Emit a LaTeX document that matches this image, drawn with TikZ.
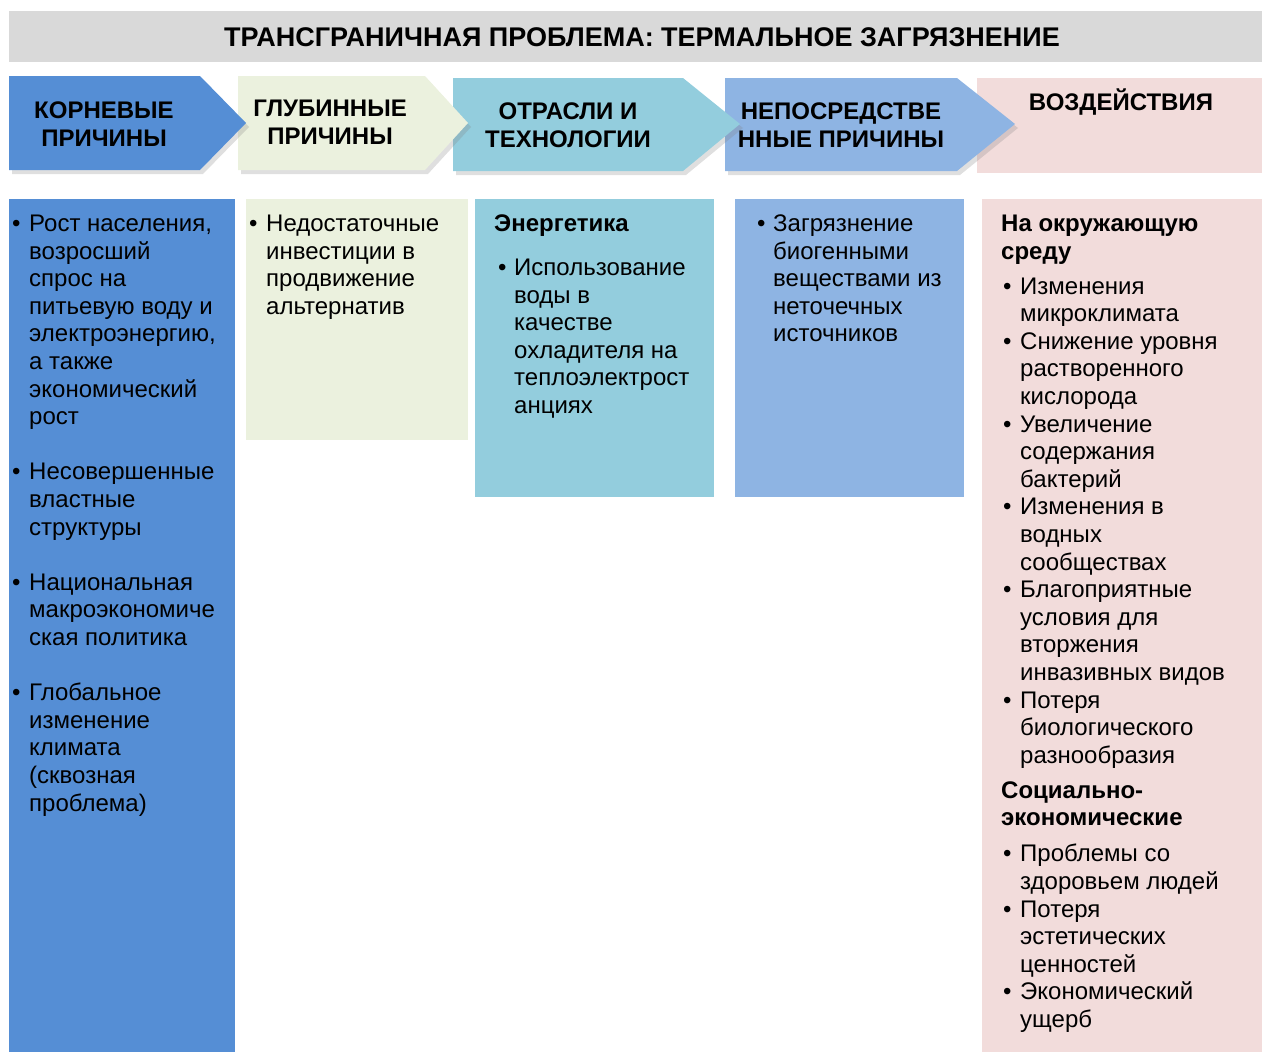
\documentclass[tikz,border=0pt]{standalone}
\usepackage{fontspec}
\setmainfont{Liberation Sans}
\usetikzlibrary{shadows}
\definecolor{rootblue}{HTML}{558ED5}
\definecolor{deepbeige}{HTML}{EBF1DE}
\definecolor{sectorteal}{HTML}{93CDDD}
\definecolor{proxblue}{HTML}{8EB4E3}
\definecolor{impactpink}{HTML}{F2DCDB}
\definecolor{titlegray}{HTML}{D9D9D9}

\begin{document}
\begin{tikzpicture}[x=1pt,y=-1pt,
  hdr/.style={font=\bfseries\fontsize{24}{28}\selectfont,align=center,inner sep=0pt},
  txt/.style={anchor=north west,inner sep=0pt,font=\fontsize{24}{27.6}\selectfont},
  arrowshade/.style={drop shadow={shadow xshift=3pt,shadow yshift=-4pt,opacity=.25}}]
\path[use as bounding box] (0,0) rectangle (1262,1052);
\fill[titlegray] (9,11) rectangle (1262,62);
\node[font=\bfseries\fontsize{27}{30}\selectfont,inner sep=0pt] (title) at (642,37) {ТРАНСГРАНИЧНАЯ ПРОБЛЕМА: ТЕРМАЛЬНОЕ ЗАГРЯЗНЕНИЕ};

\fill[impactpink] (977,78) rectangle (1262,173);
\fill[proxblue,arrowshade] (725,78)--(957,78)--(1015,124)--(957,171)--(725,171)--cycle;
\fill[sectorteal,arrowshade] (453,78)--(683,78)--(740,124)--(683,171)--(453,171)--cycle;
\fill[deepbeige,arrowshade] (238,76)--(425,76)--(468,123)--(425,170)--(238,170)--cycle;
\fill[rootblue,arrowshade] (9,76)--(200,76)--(246,123)--(200,170)--(9,170)--cycle;

\node[hdr] (hroot) at (104,124) {КОРНЕВЫЕ\\ПРИЧИНЫ};
\node[hdr] (hdeep) at (330,122) {ГЛУБИННЫЕ\\ПРИЧИНЫ};
\node[hdr] (hsector) at (568,125) {ОТРАСЛИ И\\ТЕХНОЛОГИИ};
\node[hdr] (hprox) at (841,125) {НЕПОСРЕДСТВЕ\\ННЫЕ ПРИЧИНЫ};
\node[hdr] (himpact) at (1121,102) {ВОЗДЕЙСТВИЯ};

\fill[rootblue] (9,199) rectangle (235,1052);
\fill[deepbeige] (246,199) rectangle (468,440);
\fill[sectorteal] (475,199) rectangle (714,497);
\fill[proxblue] (735,199) rectangle (964,497);
\fill[impactpink] (982,199) rectangle (1262,1052);

\node[txt] (troot) at (12,212) {\begin{tabular}{@{}p{17pt}@{}l@{}}
• & Рост населения,\\ & возросший\\ & спрос на\\ & питьевую воду и\\ & электроэнергию,\\ & а также\\ & экономический\\ & рост\\[27.6pt]
• & Несовершенные\\ & властные\\ & структуры\\[27.6pt]
• & Национальная\\ & макроэкономиче\\ & ская политика\\[27.6pt]
• & Глобальное\\ & изменение\\ & климата\\ & (сквозная\\ & проблема)
\end{tabular}};
\node[txt] (tdeep) at (249,212) {\begin{tabular}{@{}p{17pt}@{}l@{}}
• & Недостаточные\\ & инвестиции в\\ & продвижение\\ & альтернатив
\end{tabular}};
\node[txt] (tsector) at (494,212) {\begin{tabular}{@{\hspace{4pt}}p{16pt}@{}l@{}}
\multicolumn{2}{@{}l@{}}{\bfseries Энергетика}\\[16.4pt]
• & Использование\\ & воды в\\ & качестве\\ & охладителя на\\ & теплоэлектрост\\ & анциях
\end{tabular}};
\node[txt] (tprox) at (757,212) {\begin{tabular}{@{}p{16pt}@{}l@{}}
• & Загрязнение\\ & биогенными\\ & веществами из\\ & неточечных\\ & источников
\end{tabular}};
\node[txt] (timpact) at (1001,212) {\begin{tabular}{@{\hspace{2pt}}p{17pt}@{}l@{}}
\multicolumn{2}{@{}l@{}}{\bfseries На окружающую}\\
\multicolumn{2}{@{}l@{}}{\bfseries среду}\\[7.4pt]
• & Изменения\\ & микроклимата\\
• & Снижение уровня\\ & растворенного\\ & кислорода\\
• & Увеличение\\ & содержания\\ & бактерий\\
• & Изменения в\\ & водных\\ & сообществах\\
• & Благоприятные\\ & условия для\\ & вторжения\\ & инвазивных видов\\
• & Потеря\\ & биологического\\ & разнообразия\\[7.4pt]
\multicolumn{2}{@{}l@{}}{\bfseries Социально-}\\
\multicolumn{2}{@{}l@{}}{\bfseries экономические}\\[8.4pt]
• & Проблемы со\\ & здоровьем людей\\
• & Потеря\\ & эстетических\\ & ценностей\\
• & Экономический\\ & ущерб
\end{tabular}};
\end{tikzpicture}
\end{document}
